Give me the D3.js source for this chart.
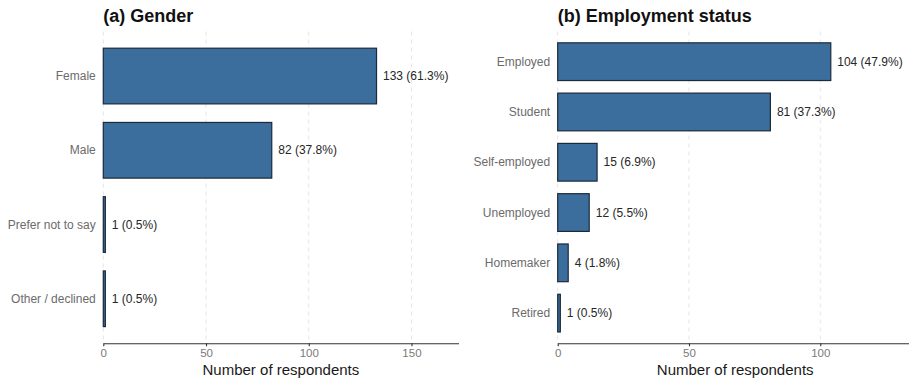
<!DOCTYPE html>
<html>
<head>
<meta charset="utf-8">
<script src="https://cdn.jsdelivr.net/npm/d3@7/dist/d3.min.js"></script>
<style>
  html, body { margin: 0; padding: 0; background: #fff; }
  svg { display: block; font-family: "Liberation Sans", Arial, Helvetica, sans-serif; }
</style>
</head>
<body>
<svg id="chart" width="909" height="378"></svg>
<script>
// Survey respondents by gender
const genderCategories = ["Female", "Male", "Prefer not to say", "Other / declined"];
const genderCounts = [133, 82, 1, 1];
const genderPercents = [61.3, 37.8, 0.5, 0.5];
const genderTicks = [0, 50, 100, 150];

// Survey respondents by employment status
const employmentCategories = ["Employed", "Student", "Self-employed", "Unemployed", "Homemaker", "Retired"];
const employmentCounts = [104, 81, 15, 12, 4, 1];
const employmentPercents = [47.9, 37.3, 6.9, 5.5, 1.8, 0.5];
const employmentTicks = [0, 50, 100];

const axisTitle = "Number of respondents";

const svg = d3.select("#chart");

function drawPanel(opts) {
  const { title, categories, counts, percents, ticks, left, right } = opts;
  const top = 31.5, bottom = 343.3;
  const data = categories.map((c, i) => ({ cat: c, n: counts[i], pct: percents[i] }));
  const xMax = d3.max(counts) * 1.3;

  const x = d3.scaleLinear().domain([0, xMax]).range([left, right]);
  // discrete axis with 0.6 band-unit padding on each side, bars 0.75 wide
  const step = (bottom - top) / (categories.length - 1 + 1.2);
  const y = d3.scalePoint().domain(categories).range([top + 0.6 * step, bottom - 0.6 * step]);
  const barH = step * 0.75;

  const g = svg.append("g");

  // vertical dashed gridlines
  g.selectAll("line.grid").data(ticks).join("line")
    .attr("class", "grid")
    .attr("x1", d => x(d)).attr("x2", d => x(d))
    .attr("y1", top).attr("y2", bottom)
    .attr("stroke", "#dedede").attr("stroke-width", 0.8)
    .attr("stroke-dasharray", "4,4");

  // bars
  g.selectAll("rect.bar").data(data).join("rect")
    .attr("class", "bar")
    .attr("x", x(0))
    .attr("y", d => y(d.cat) - barH / 2)
    .attr("width", d => x(d.n) - x(0))
    .attr("height", barH)
    .attr("fill", "#3b6e9c")
    .attr("stroke", "#1b2a3b")
    .attr("stroke-width", 1.2);

  // value labels
  g.selectAll("text.val").data(data).join("text")
    .attr("class", "val")
    .attr("x", d => x(d.n) + 6.5)
    .attr("y", d => y(d.cat))
    .attr("dy", "0.35em")
    .attr("font-size", 12)
    .attr("fill", "#262626")
    .text(d => `${d.n} (${d.pct.toFixed(1)}%)`);

  // category labels
  g.selectAll("text.cat").data(data).join("text")
    .attr("class", "cat")
    .attr("x", left - 7.5)
    .attr("y", d => y(d.cat))
    .attr("dy", "0.35em")
    .attr("text-anchor", "end")
    .attr("font-size", 12)
    .attr("fill", "#6b6b6b")
    .text(d => d.cat);

  // bottom axis
  const axis = d3.axisBottom(x).tickValues(ticks).tickSize(3).tickPadding(3).tickSizeOuter(0);
  const ax = g.append("g").attr("transform", `translate(0,${bottom})`).call(axis);
  ax.select(".domain").attr("stroke", "#333").attr("stroke-width", 1.1);
  ax.selectAll(".tick line").attr("stroke", "#333").attr("stroke-width", 1.1);
  ax.selectAll(".tick text").attr("font-size", 11.5).attr("fill", "#7a7a7a")
    .attr("font-family", "Liberation Sans, Arial, sans-serif");

  // axis title
  g.append("text")
    .attr("x", (left + right) / 2)
    .attr("y", 375)
    .attr("text-anchor", "middle")
    .attr("font-size", 15)
    .attr("fill", "#1a1a1a")
    .text(axisTitle);

  // panel title
  g.append("text")
    .attr("x", left)
    .attr("y", 22)
    .attr("font-size", 18)
    .attr("font-weight", "bold")
    .attr("fill", "#111")
    .text(title);
}

drawPanel({
  title: "(a) Gender",
  categories: genderCategories, counts: genderCounts, percents: genderPercents,
  ticks: genderTicks, left: 103.3, right: 458.5
});

drawPanel({
  title: "(b) Employment status",
  categories: employmentCategories, counts: employmentCounts, percents: employmentPercents,
  ticks: employmentTicks, left: 557.7, right: 912.7
});
</script>
</body>
</html>
